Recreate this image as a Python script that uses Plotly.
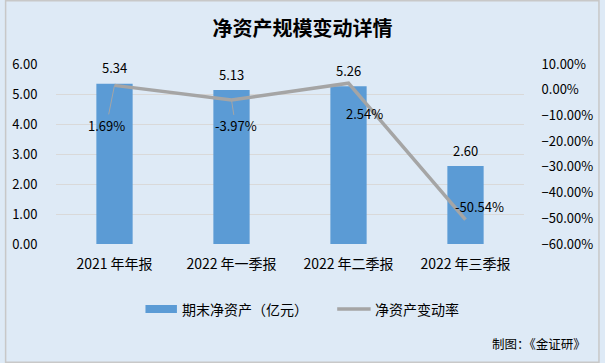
import plotly.graph_objects as go

categories = ["2021 年年报", "2022 年一季报", "2022 年二季报", "2022 年三季报"]
net_assets = [5.34, 5.13, 5.26, 2.60]          # 亿元
change_rate = [1.69, -3.97, 2.54, -50.54]      # %
bar_name = "期末净资产（亿元）"
line_name = "净资产变动率"
title_text = "净资产规模变动详情"
source_text = "制图：《金证研》"

# label offsets (pixels) for rate labels: (ax, ay, show leader line)
rate_label_offsets = [(-8, 40, True), (4, 26, True), (16, 30, False), (14, -13, False)]

W, H = 605, 363
L, R, T, B = 52, 77, 64, 119
pw, ph = W - L - R, H - T - B

FONT = "Noto Sans CJK SC"
BG = "#DEEAF6"
BAR_COLOR = "#5B9BD5"
LINE_COLOR = "#A5A5A5"


def px_x(p):
    return (p - L) / pw


def px_y(p):
    return (H - B - p) / ph


fig = go.Figure()
fig.add_trace(go.Bar(
    x=categories, y=net_assets, name=bar_name,
    marker=dict(color=BAR_COLOR, line=dict(width=0)),
    width=0.31, yaxis="y", showlegend=False,
))
fig.add_trace(go.Scatter(
    x=categories, y=change_rate, name=line_name, mode="lines",
    line=dict(color=LINE_COLOR, width=3.5), yaxis="y2", showlegend=False,
))

annotations = []
for c, v in zip(categories, net_assets):
    annotations.append(dict(
        x=c, y=v, xref="x", yref="y", text=f"{v:.2f}", showarrow=False,
        yshift=16, font=dict(size=13, color="#000000", family=FONT),
    ))
for c, v, (ax, ay, lead) in zip(categories, change_rate, rate_label_offsets):
    annotations.append(dict(
        x=c, y=v, xref="x", yref="y2", text=f"{v:.2f}%", showarrow=True,
        ax=ax, ay=ay, arrowhead=0, arrowwidth=1,
        arrowcolor="#A5A5A5" if lead else "rgba(0,0,0,0)",
        standoff=0, startstandoff=0,
        font=dict(size=13, color="#000000", family=FONT),
    ))
# source note
annotations.append(dict(
    x=px_x(593), y=px_y(343), xref="paper", yref="paper",
    xanchor="right", yanchor="middle", text=source_text, showarrow=False,
    font=dict(size=12.5, color="#000000", family=FONT),
))
# legend texts
annotations.append(dict(
    x=px_x(178), y=px_y(309), xref="paper", yref="paper", xanchor="left",
    yanchor="middle", text=bar_name, showarrow=False,
    font=dict(size=14, color="#000000", family=FONT),
))
annotations.append(dict(
    x=px_x(374), y=px_y(309), xref="paper", yref="paper", xanchor="left",
    yanchor="middle", text=line_name, showarrow=False,
    font=dict(size=14, color="#000000", family=FONT),
))

shapes = [
    dict(type="rect", xref="paper", yref="paper",
         x0=px_x(0.75), x1=px_x(W - 0.75), y0=px_y(H - 0.75), y1=px_y(0.75),
         line=dict(color="#C8C8C8", width=1.5), fillcolor="rgba(0,0,0,0)",
         layer="below"),
    # legend icons
    dict(type="rect", xref="paper", yref="paper",
         x0=px_x(143), x1=px_x(175), y0=px_y(313), y1=px_y(305),
         line=dict(width=0), fillcolor=BAR_COLOR),
    dict(type="line", xref="paper", yref="paper",
         x0=px_x(338), x1=px_x(372), y0=px_y(309), y1=px_y(309),
         line=dict(color=LINE_COLOR, width=3.5)),
]

fig.update_layout(
    width=W, height=H,
    margin=dict(l=L, r=R, t=T, b=B, pad=0),
    paper_bgcolor=BG, plot_bgcolor=BG,
    font=dict(family=FONT, size=13, color="#000000"),
    title=dict(text=title_text, x=0.5, xanchor="center", y=1 - 29 / H,
               yanchor="middle", font=dict(size=20, color="#000000", family=FONT, weight="bold")),
    xaxis=dict(showgrid=False, showline=False, zeroline=False,
               ticks="outside", ticklen=7, tickcolor="rgba(0,0,0,0)",
               tickfont=dict(size=14, color="#000000")),
    yaxis=dict(range=[0, 6], dtick=1, tickformat=".2f", showgrid=True,
               gridcolor="#D9D9D9", gridwidth=1, zeroline=False, showline=False,
               ticks="outside", ticklen=15, tickcolor="rgba(0,0,0,0)",
               tickfont=dict(size=13, color="#000000")),
    yaxis2=dict(range=[-60, 10], dtick=10, tickformat=".2f", ticksuffix="%",
                overlaying="y", side="right", showgrid=False, zeroline=False,
                showline=False, ticks="outside", ticklen=14, tickcolor="rgba(0,0,0,0)",
                tickfont=dict(size=13, color="#000000")),
    showlegend=False,
    annotations=annotations,
    shapes=shapes,
)

fig.write_html("out.html", config={"displayModeBar": False},
               post_script="document.body.style.margin='0';document.body.style.padding='0';")
